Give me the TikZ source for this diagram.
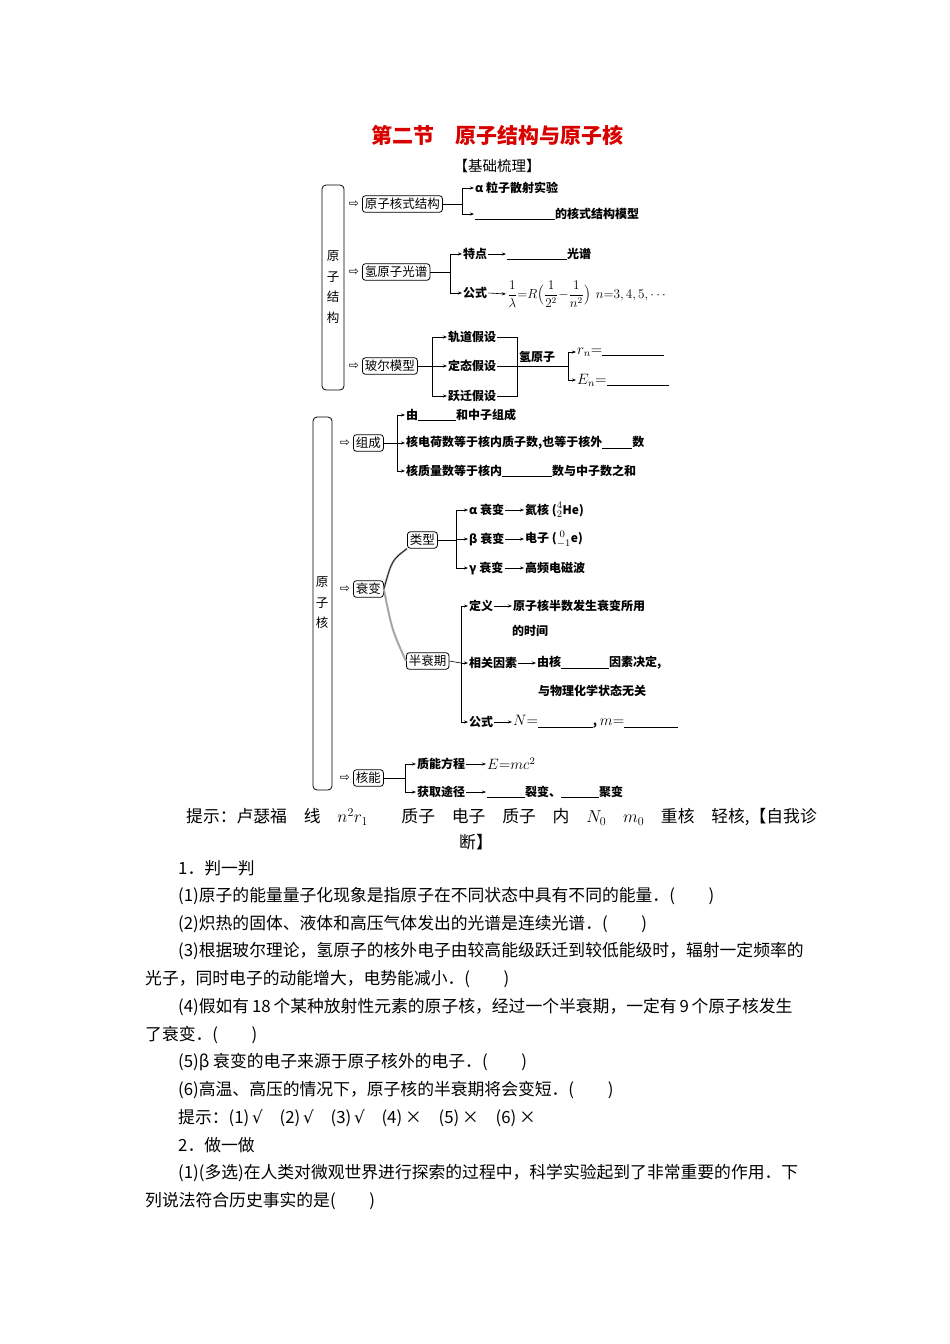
\documentclass[tikz,border=0pt]{standalone}
\usepackage{fontspec}
\setmainfont{Noto Sans CJK SC}
\newfontfamily\djv{DejaVu Sans}
\usetikzlibrary{arrows.meta}
\newcommand\fillin[1]{\rule[-1.5pt]{#1pt}{0.5pt}}
\newcommand\mscl[1]{\scalebox{1.25}{#1}}
\tikzset{
 ar/.style={-{Stealth[length=4pt,width=3pt]},line width=0.6pt},
 ln/.style={line width=0.6pt},
 bx/.style={draw,rounded corners=3pt,line width=0.8pt,inner sep=2.5pt,font=\fontsize{12.5}{14}\selectfont},
 big/.style={draw,rounded corners=4pt,line width=0.8pt},
 lf/.style={anchor=west,inner sep=1pt,font=\bfseries\fontsize{12}{14}\selectfont},
 hol/.style={font=\djv\fontsize{12}{12}\selectfont,inner sep=0pt},
 tx/.style={anchor=west,inner sep=0pt,font=\fontsize{16.8}{18}\selectfont}
}
\begin{document}
\begin{tikzpicture}[x=1pt,y=-1pt]
\useasboundingbox (0,0) rectangle (950,1344);
\node[font=\bfseries\fontsize{21}{24}\selectfont,text=red!85!black] (title) at (497,135) {第二节\quad 原子结构与原子核};
\node[font=\fontsize{14.5}{16}\selectfont] (jc) at (497,166) {【基础梳理】};
% part 1
\node[big,minimum width=22pt,minimum height=205pt] (P1) at (333,287.5) {};
\node[font=\fontsize{12.5}{20.5}\selectfont,align=center] (P1t) at (333,287) {原\\子\\结\\构};
\node[hol] (h1) at (354,204) {⇨};
\node[hol] (h2) at (354,272) {⇨};
\node[hol] (h3) at (354,366) {⇨};
\node[bx,anchor=west] (b1) at (362,204) {原子核式结构};
\node[bx,anchor=west] (b2) at (362,272) {氢原子光谱};
\node[bx,anchor=west] (b3) at (362,366) {玻尔模型};
% b1
\node[lf] (a1) at (474,188) {α 粒子散射实验};
\node[lf] (a2) at (474,214) {\fillin{80}的核式结构模型};
\draw[ln] (b1.east) -- (462,204);
\draw[ln] (462,188) -- (462,214);
\draw[ar] (462,188) -- (a1.west);
\draw[ar] (462,214) -- (a2.west);
% b2
\node[lf] (c1) at (462,254) {特点};
\node[lf] (c1b) at (506,254) {\fillin{60}光谱};
\node[lf] (c2) at (462,293) {公式};
\node[lf] (c2b) at (506,294) {\scalebox{1.1}{$\displaystyle\frac{1}{\lambda}{=}R\Bigl(\frac{1}{2^2}{-}\frac{1}{n^2}\Bigr)$\, $n{=}3,4,5,\cdots$}};
\draw[ln] (b2.east) -- (450,272);
\draw[ln] (450,254) -- (450,293);
\draw[ar] (450,254) -- (c1.west);
\draw[ar] (450,293) -- (c2.west);
\draw[ar] (c1.east) -- (c1b.west);
\draw[ar] (c2.east) -- (c2b.west);
% b3
\node[lf] (d1) at (447,337) {轨道假设};
\node[lf] (d2) at (447,366) {定态假设};
\node[lf] (d3) at (447,396) {跃迁假设};
\draw[ln] (b3.east) -- (432,366);
\draw[ln] (432,337) -- (432,396);
\draw[ar] (432,337) -- (d1.west);
\draw[ar] (432,366) -- (d2.west);
\draw[ar] (432,396) -- (d3.west);
\draw[ln] (d1.east) -- (517,337) -- (517,396) -- (d3.east);
\draw[ln] (d2.east) -- (517,366);
\node[lf] (hy) at (518,357) {氢原子};
\coordinate (hyr) at (568,366);
\draw[ln] (517,366) -- (hyr);
\draw[ln] (568,352) -- (568,380);
\node[lf] (r1) at (576,352) {\mscl{$r_n{=}$}\fillin{62}};
\node[lf] (r2) at (576,380) {\mscl{$E_n{=}$}\fillin{62}};
\draw[ar] (568,352) -- (r1.west);
\draw[ar] (568,380) -- (r2.west);
% part 2
\node[big,minimum width=19pt,minimum height=373pt] (P2) at (322.5,603.5) {};
\node[font=\fontsize{12.5}{20.5}\selectfont,align=center] (P2t) at (322,603) {原\\子\\核};
\node[hol] (h4) at (345,443) {⇨};
\node[hol] (h5) at (345,589) {⇨};
\node[hol] (h6) at (345,778) {⇨};
\node[bx,anchor=west] (e1) at (353,443) {组成};
\node[bx,anchor=west] (e2) at (353,589) {衰变};
\node[bx,anchor=west] (e3) at (353,778) {核能};
% 组成
\node[lf] (f1) at (405,415) {由\fillin{38}和中子组成};
\node[lf] (f2) at (405,443) {核电荷数等于核内质子数,也等于核外\fillin{30}数};
\node[lf] (f3) at (405,471) {核质量数等于核内\fillin{50}数与中子数之和};
\draw[ln] (e1.east) -- (397,443);
\draw[ln] (397,415) -- (397,471);
\draw[ar] (397,415) -- (f1.west);
\draw[ar] (397,443) -- (f2.west);
\draw[ar] (397,471) -- (f3.west);
% 衰变
\node[bx,anchor=west] (g1) at (407,540) {类型};
\node[bx,anchor=west] (g2) at (406,661) {半衰期};
\draw[line width=2pt,gray!70] (e2.east) .. controls (392,560) .. (g1.south west);
\draw[line width=2pt,gray!70] (e2.east) .. controls (392,630) .. (g2.west);
\draw[line width=0.6pt] (e2.east) .. controls (392,560) .. (g1.south west);
% 类型
\node[lf] (k1) at (468,510) {α 衰变};
\node[lf] (k1b) at (524,510) {氦核 (\mscl{$^{4}_{2}$}He)};
\node[lf] (k2) at (468,539) {β 衰变};
\node[lf] (k2b) at (524,539) {电子 (\mscl{$^{\;0}_{-1}$}e)};
\node[lf] (k3) at (468,568) {γ 衰变};
\node[lf] (k3b) at (524,568) {高频电磁波};
\draw[ln] (g1.east) -- (456,540);
\draw[ln] (456,510) -- (456,568);
\draw[ar] (456,510) -- (k1.west);
\draw[ar] (456,539) -- (k2.west);
\draw[ar] (456,568) -- (k3.west);
\draw[ar] (k1.east) -- (k1b.west);
\draw[ar] (k2.east) -- (k2b.west);
\draw[ar] (k3.east) -- (k3b.west);
% 半衰期
\node[lf] (m1) at (468,606) {定义};
\node[lf] (m1b) at (512,606) {原子核半数发生衰变所用};
\node[lf] (m1c) at (511,631) {的时间};
\node[lf] (m2) at (468,663) {相关因素};
\node[lf] (m2b) at (536,663) {由核\fillin{48}因素决定,};
\node[lf] (m2c) at (537,691) {与物理化学状态无关};
\node[lf] (m3) at (468,722) {公式};
\node[lf] (m3b) at (512,722) {\mscl{$N{=}$}\fillin{55}, \mscl{$m{=}$}\fillin{54}};
\draw[ln] (g2.east) -- (461,663);
\draw[ln] (461,606) -- (461,722);
\draw[ar] (461,606) -- (m1.west);
\draw[ar] (461,663) -- (m2.west);
\draw[ar] (461,722) -- (m3.west);
\draw[ar] (m1.east) -- (m1b.west);
\draw[ar] (m2.east) -- (m2b.west);
\draw[ar] (m3.east) -- (m3b.west);
% 核能
\node[lf] (n1) at (416,764) {质能方程};
\node[lf] (n1b) at (486,764) {\mscl{$E{=}mc^2$}};
\node[lf] (n2) at (416,792) {获取途径};
\node[lf] (n2b) at (486,792) {\fillin{38}裂变、\fillin{38}聚变};
\draw[ln] (e3.east) -- (405,778);
\draw[ln] (405,764) -- (405,792);
\draw[ar] (405,764) -- (n1.west);
\draw[ar] (405,792) -- (n2.west);
\draw[ar] (n1.east) -- (n1b.west);
\draw[ar] (n2.east) -- (n2b.west);
% text
\node[tx] (t0) at (186,817) {提示：卢瑟福\quad 线\quad $n^2r_1$\quad\quad 质子\quad 电子\quad 质子\quad 内\quad $N_0$\quad $m_0$\quad 重核\quad 轻核,【自我诊};
\node[tx] (t0b) at (459,842) {断】};
\node[tx] (t1) at (178,868) {1．判一判};
\node[tx] (t2) at (178,896) {(1)原子的能量量子化现象是指原子在不同状态中具有不同的能量．(\qquad)};
\node[tx] (t3) at (178,924) {(2)炽热的固体、液体和高压气体发出的光谱是连续光谱．(\qquad)};
\node[tx] (t4) at (178,951) {(3)根据玻尔理论，氢原子的核外电子由较高能级跃迁到较低能级时，辐射一定频率的};
\node[tx] (t5) at (145,979) {光子，同时电子的动能增大，电势能减小．(\qquad)};
\node[tx] (t6) at (178,1007) {(4)假如有\,18\,个某种放射性元素的原子核，经过一个半衰期，一定有\,9\,个原子核发生};
\node[tx] (t7) at (145,1035) {了衰变．(\qquad)};
\node[tx] (t8) at (178,1062) {(5)β 衰变的电子来源于原子核外的电子．(\qquad)};
\node[tx] (t9) at (178,1090) {(6)高温、高压的情况下，原子核的半衰期将会变短．(\qquad)};
\node[tx] (t10) at (178,1118) {提示：(1)\,{\djv √}\quad (2)\,{\djv √}\quad (3)\,{\djv √}\quad (4)\,×\quad (5)\,×\quad (6)\,×};
\node[tx] (t11) at (178,1145) {2．做一做};
\node[tx] (t12) at (178,1173) {(1)(多选)在人类对微观世界进行探索的过程中，科学实验起到了非常重要的作用．下};
\node[tx] (t13) at (145,1201) {列说法符合历史事实的是(\qquad)};
\end{tikzpicture}
\end{document}
